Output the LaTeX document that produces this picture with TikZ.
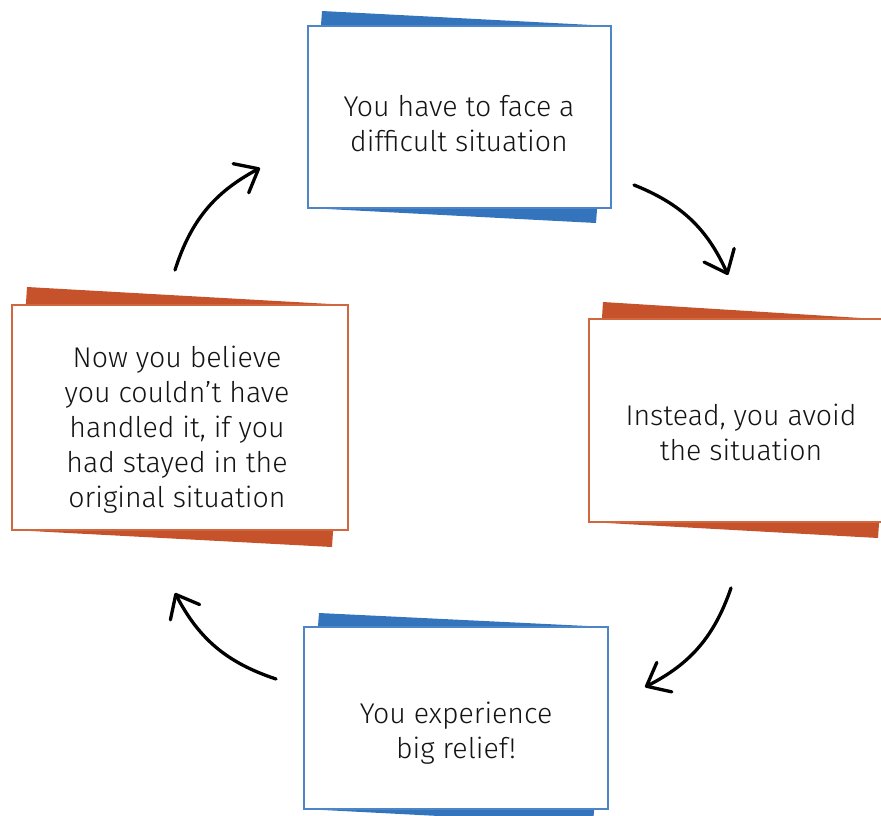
\documentclass[tikz,border=0pt]{standalone}
\usepackage{fontspec}
\setmainfont{Fira Sans Light}
\usetikzlibrary{arrows.meta}
\definecolor{cblue}{HTML}{3474BC}
\definecolor{corange}{HTML}{C5522A}
\definecolor{bblue}{HTML}{4C86C6}
\definecolor{borange}{HTML}{D0673F}
\definecolor{ink}{HTML}{141414}
\begin{document}
\begin{tikzpicture}[x=1pt,y=-1pt,
  card/.style={draw=#1, line width=1.3pt, fill=white, inner sep=0pt},
  txt/.style={font=\fontsize{28.5}{35}\selectfont, align=center, text=ink, inner sep=0pt},
  flow/.style={line width=3.3pt, line cap=round, -{Straight Barb[length=20pt,width=33pt,round]}}]
\useasboundingbox (0,0) rectangle (881,815);
\clip (0,0) rectangle (881,815);
% backings
\fill[cblue] (322,11) -- (611,26) -- (596,223) -- (308,208) -- cycle;
\fill[corange] (603,302) -- (893,320) -- (878,538) -- (589,522) -- cycle;
\fill[corange] (27,287) -- (348,305) -- (332,547) -- (12,530) -- cycle;
\fill[cblue] (319,613) -- (608,627) -- (593,824) -- (304,809) -- cycle;
% cards
\node[card=bblue, minimum width=303pt, minimum height=182pt] (top) at (459.5,117) {};
\node[card=borange, minimum width=304pt, minimum height=203pt] (right) at (741,420.5) {};
\node[card=borange, minimum width=336pt, minimum height=225pt] (left) at (180,417.5) {};
\node[card=bblue, minimum width=304pt, minimum height=182pt] (bottom) at (456,718) {};
% texts
\node[txt] (ttop) at (459,124) {You have to face a\\difficult situation};
\node[txt] (tright) at (741,432) {Instead, you avoid\\the situation};
\node[txt] (tleft) at (177,430) {Now you believe\\you couldn’t have\\handled it, if you\\had stayed in the\\original situation};
\node[txt] (tbottom) at (456,733) {You experience\\big relief!};
% arrows
\coordinate (a1s) at (634,185); \coordinate (a1e) at (728,275);
\coordinate (a3s) at (731,588); \coordinate (a3e) at (645,687);
\coordinate (a4s) at (276,679); \coordinate (a4e) at (175,593);
\coordinate (a2s) at (175,270); \coordinate (a2e) at (260,168);
\draw[flow] (a1s) to[bend left=22] (a1e);
\draw[flow] (a3s) to[bend left=22] (a3e);
\draw[flow] (a4s) to[bend left=22] (a4e);
\draw[flow] (a2s) to[bend left=22] (a2e);
\end{tikzpicture}
\end{document}
